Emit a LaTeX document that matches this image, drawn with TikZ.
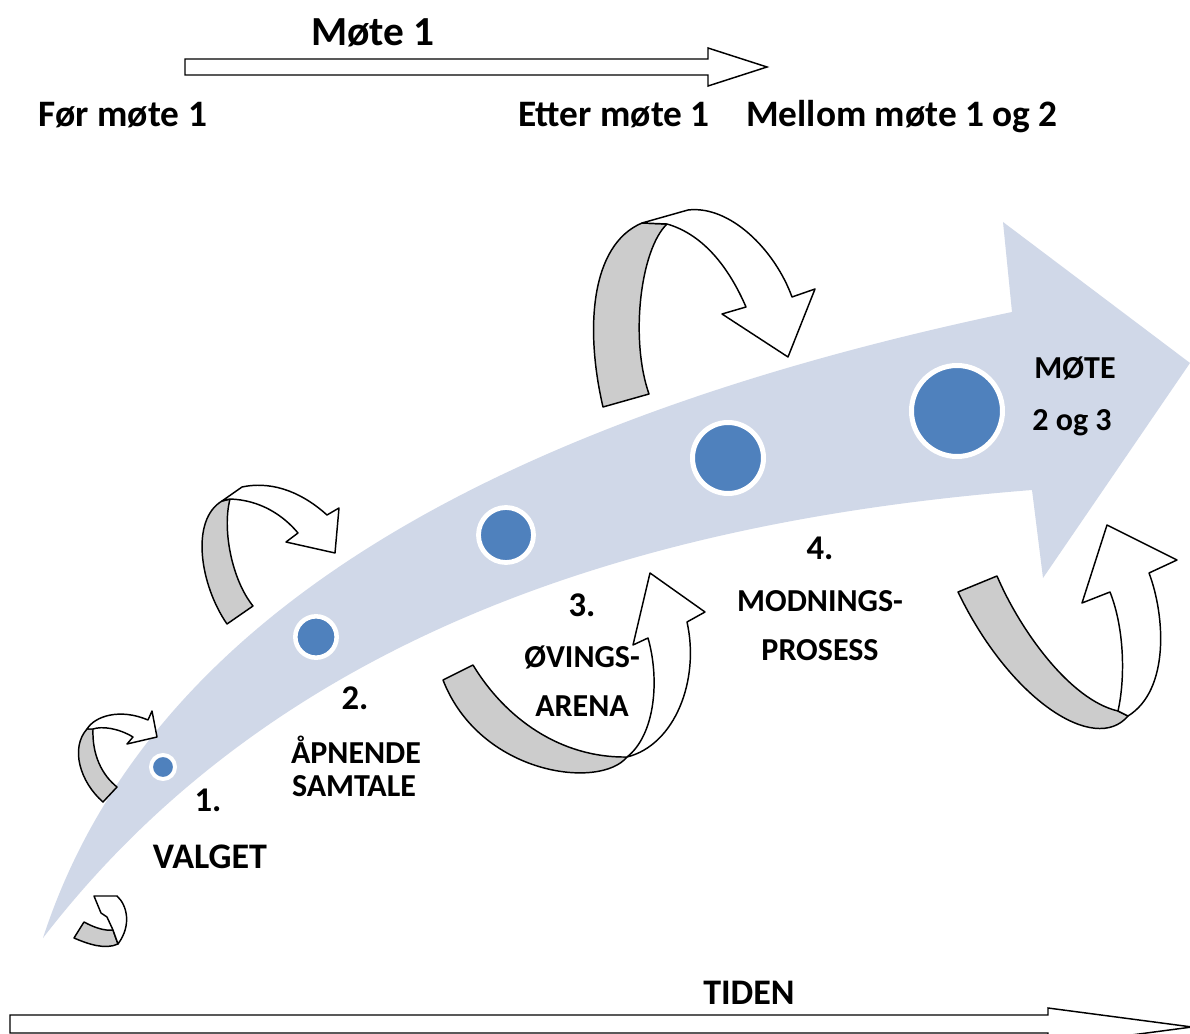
\documentclass[tikz,border=0pt]{standalone}
\usepackage{fontspec}
\setmainfont{Carlito}
\definecolor{bandc}{HTML}{D0D8E8}
\definecolor{dotc}{HTML}{4F81BD}
\definecolor{backc}{HTML}{CCCCCC}
\begin{document}
\begin{tikzpicture}[x=0.75pt,y=-0.75pt,
  dot/.style={circle,fill=dotc,draw=white,inner sep=0pt},
  backside/.style={fill=backc,draw=black,line width=1.1pt,line join=round},
  frontside/.style={fill=white,draw=black,line width=1.1pt,line join=round},
  blockarrow/.style={fill=white,draw=black,line width=1.1pt,line join=miter},
  toptxt/.style={font=\bfseries\fontsize{28}{32}\selectfont,inner sep=0pt},
  numtxt/.style={font=\bfseries\fontsize{26}{30}\selectfont,inner sep=0pt},
  steptxt/.style={font=\bfseries\fontsize{24}{28}\selectfont,inner sep=0pt}]
\clip (0,0) rectangle (1190,1034);
\fill[white] (0,0) rectangle (1190,1034);

% big curved arrow
\fill[bandc] (43,938) .. controls (140,640) and (450,430) .. (1012,312)
  -- (1003,222) -- (1190,363) -- (1043,578) -- (1032,490)
  .. controls (650,520) and (280,630) .. (43,938) -- cycle;

% dots
\node[dot,minimum size=18pt,line width=3pt] (d1) at (163,767) {};
\node[dot,minimum size=31pt,line width=3.4pt] (d2) at (316,637) {};
\node[dot,minimum size=41.25pt,line width=3.6pt] (d3) at (506,535) {};
\node[dot,minimum size=53.25pt,line width=3.75pt] (d4) at (728,458) {};
\node[dot,minimum size=68.25pt,line width=3.75pt] (d5) at (957,411) {};

% curly arrow A1
\path[backside] (103,802) .. controls (80,782) and (70,748) .. (87,729) -- (93,729) .. controls (92,755) and (102,775) .. (117,787) -- cycle;
\path[frontside] (87,729) .. controls (95,716) and (120,708) .. (148,720) -- (152,711) -- (157,737) -- (127,744) -- (133,737) .. controls (118,728) and (102,726) .. (93,729) -- cycle;

% curly arrow A2
\path[backside] (227,624) .. controls (200,585) and (190,520) .. (222,501) -- (230,499) .. controls (222,530) and (232,580) .. (253,606) -- cycle;
\path[frontside] (222,501) -- (242,487) .. controls (275,480) and (305,495) .. (327,515) -- (339,508) -- (335,553) -- (286,542) -- (298,533) .. controls (283,515) and (260,500) .. (230,499) -- cycle;

% curly arrow A3
\path[backside] (603,407) .. controls (585,330) and (590,245) .. (642,223) -- (667,224) .. controls (640,250) and (630,340) .. (649,394) -- cycle;
\path[frontside] (642,223) -- (688,210) .. controls (730,205) and (775,250) .. (792,297) -- (815,289) -- (788,357) -- (722,314) -- (746,307) .. controls (730,270) and (705,235) .. (667,224) -- cycle;

% curly arrow A4
\path[backside] (443,680) -- (473,665) .. controls (505,718) and (560,758) .. (627,757) .. controls (600,790) and (480,775) .. (443,680) -- cycle;
\path[frontside] (627,757) .. controls (675,745) and (700,680) .. (687,622) -- (705,612) -- (650,573) -- (633,645) -- (648,638) .. controls (660,680) and (655,735) .. (627,757) -- cycle;

% curly arrow A5
\path[backside] (958,592) -- (997,576) .. controls (1020,630) and (1070,700) .. (1118,711) -- (1128,716) .. controls (1095,755) and (1010,700) .. (958,592) -- cycle;
\path[frontside] (1118,711) .. controls (1125,680) and (1125,630) .. (1110,592) -- (1082,603) -- (1107,525) -- (1177,560) -- (1149,573) .. controls (1165,615) and (1170,690) .. (1128,716) -- cycle;

% curly arrow A6
\path[backside] (74,938) -- (84,922) .. controls (95,928) and (105,931) .. (113,930) -- (118,944) .. controls (105,950) and (88,944) .. (74,938) -- cycle;
\path[frontside] (113,930) -- (107,917) -- (101,913) -- (94,896) -- (117,896) .. controls (127,905) and (132,925) .. (118,944) -- cycle;

% top arrow
\path[blockarrow] (185,59) -- (708,59) -- (708,48) -- (767,67) -- (708,86) -- (708,75) -- (185,75) -- cycle;
% bottom arrow
\path[blockarrow] (10,1015) -- (1048,1015) -- (1048,1008) -- (1192,1027) -- (1048,1046) -- (1048,1033) -- (10,1033) -- cycle;

% texts
\node[toptxt,font=\bfseries\fontsize{31}{35}\selectfont] (m1) at (373,33) {Møte 1};
\node[toptxt] (t1) at (123,115) {Før møte 1};
\node[toptxt] (t2) at (614,115) {Etter møte 1};
\node[toptxt,anchor=base] (t3) at (902,127) {Mellom møte 1 og 2};
\node[toptxt,font=\bfseries\fontsize{27}{31}\selectfont] (tid) at (749,993) {TIDEN};

\node[numtxt] (n1) at (208,800) {1.};
\node[toptxt,font=\bfseries\fontsize{27}{31}\selectfont] (v) at (210,857) {VALGET};
\node[numtxt] (n2) at (355,698) {2.};
\node[steptxt] (s2a) at (356,750) {ÅPNENDE};
\node[steptxt] (s2b) at (354,786) {SAMTALE};
\node[numtxt] (n3) at (582,605) {3.};
\node[steptxt] (s3a) at (582,657) {ØVINGS-};
\node[steptxt] (s3b) at (582,706) {ARENA};
\node[numtxt] (n4) at (820,548) {4.};
\node[steptxt] (s4a) at (820,601) {MODNINGS-};
\node[steptxt] (s4b) at (820,650) {PROSESS};
\node[steptxt] (s5a) at (1075,368) {MØTE};
\node[steptxt,anchor=base] (s5b) at (1072,431) {2 og 3};
\end{tikzpicture}
\end{document}
